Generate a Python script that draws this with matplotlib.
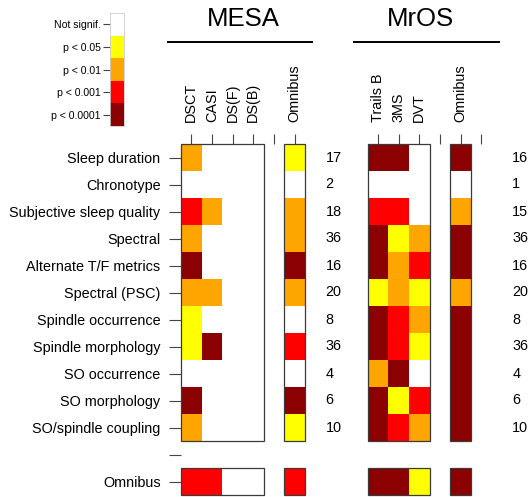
import numpy as np
import matplotlib.pyplot as plt
from matplotlib.colors import ListedColormap, BoundaryNorm
from matplotlib.patches import Rectangle

plt.rcParams['font.family'] = ['Liberation Sans', 'DejaVu Sans']

# significance levels: 0 = n.s., 1 = p<0.05, 2 = p<0.01, 3 = p<0.001, 4 = p<0.0001
level_names = ['Not signif.', 'p < 0.05', 'p < 0.01', 'p < 0.001', 'p < 0.0001']
level_colors = ['white', '#FFFF00', '#FFA500', '#FF0000', '#8B0000']

domains = ['Sleep duration', 'Chronotype', 'Subjective sleep quality', 'Spectral',
           'Alternate T/F metrics', 'Spectral (PSC)', 'Spindle occurrence',
           'Spindle morphology', 'SO occurrence', 'SO morphology', 'SO/spindle coupling']

mesa_tests = ['DSCT', 'CASI', 'DS(F)', 'DS(B)']
mesa_levels = [[2, 0, 0, 0], [0, 0, 0, 0], [3, 2, 0, 0], [2, 0, 0, 0],
               [4, 0, 0, 0], [2, 2, 0, 0], [1, 0, 0, 0], [1, 4, 0, 0],
               [0, 0, 0, 0], [4, 0, 0, 0], [2, 0, 0, 0]]
mesa_omnibus = [1, 0, 2, 2, 4, 2, 0, 3, 0, 4, 1]
mesa_overall = [3, 3, 0, 0]
mesa_overall_omnibus = 3
mesa_n = [17, 2, 18, 36, 16, 20, 8, 36, 4, 6, 10]

mros_tests = ['Trails B', '3MS', 'DVT']
mros_levels = [[4, 4, 0], [0, 0, 0], [3, 3, 0], [4, 1, 2],
               [4, 2, 3], [1, 2, 1], [4, 3, 2], [4, 3, 1],
               [2, 4, 0], [4, 1, 3], [4, 3, 2]]
mros_omnibus = [4, 0, 2, 4, 4, 2, 4, 4, 4, 4, 4]
mros_overall = [4, 4, 1]
mros_overall_omnibus = 4
mros_n = [16, 1, 15, 36, 16, 20, 8, 36, 4, 6, 10]

cmap = ListedColormap(level_colors)
norm = BoundaryNorm(np.arange(-0.5, 5.5, 1), cmap.N)

W, H = 529, 497
cw, ch = 20.65, 27.0   # cell size in pixels
top = 144
nrow = len(domains) + 2  # blank row + omnibus row
fs = 10.4

fig = plt.figure(figsize=(W / 100, H / 100), dpi=100)

edge = '#3a3a3a'


def box(ax, x0, y0, w, h):
    ax.add_patch(Rectangle((x0, y0), w, h, fill=False, ec=edge, lw=0.9,
                           clip_on=False, zorder=3))


def panel(left, title, tests, levels, omnibus, overall, overall_omni, counts,
          show_rows, extra_tick):
    ax = fig.add_axes([left / W, 1 - (top + nrow * ch) / H, 8 * cw / W, nrow * ch / H])
    nt = len(tests)
    nd = len(domains)
    ax.set_xlim(0, 8)
    ax.set_ylim(nrow, 0)
    for s in ax.spines.values():
        s.set_visible(False)

    lev = np.array(levels)
    ax.pcolormesh(np.arange(nt + 1), np.arange(nd + 1), lev, cmap=cmap, norm=norm)
    box(ax, 0, 0, nt, nd)
    oc = nt + 1
    ax.pcolormesh([oc, oc + 1], np.arange(nd + 1), np.array(omnibus)[:, None],
                  cmap=cmap, norm=norm)
    box(ax, oc, 0, 1, nd)

    ax.pcolormesh(np.arange(nt + 1), [nd + 1, nd + 2], np.array([overall]),
                  cmap=cmap, norm=norm)
    box(ax, 0, nd + 1, nt, 1)
    ax.pcolormesh([oc, oc + 1], [nd + 1, nd + 2], np.array([[overall_omni]]),
                  cmap=cmap, norm=norm)
    box(ax, oc, nd + 1, 1, 1)

    for i, n in enumerate(counts):
        ax.text(7.0, i + 0.5, str(n), ha='left', va='center', fontsize=fs,
                clip_on=False)

    xt = list(np.arange(nt + 2) + 0.5)
    xl = tests + ['', 'Omnibus']
    if extra_tick:
        xt.append(nt + 2.5)
        xl.append('')
    ax.set_xticks(xt, xl)
    ax.xaxis.tick_top()
    ax.tick_params(axis='x', rotation=90, pad=8.5, length=7.5, width=0.8,
                   color='#444444', labelsize=fs)

    if show_rows:
        ax.set_yticks(np.arange(nrow) + 0.5, domains + ['', 'Omnibus'])
        ax.tick_params(axis='y', pad=6.2, length=8.5, width=0.8,
                       color='#444444', labelsize=fs)
    else:
        ax.set_yticks([])

    # panel heading with rule underneath
    ax.text(3.0 if nt == 4 else 2.57, -4.37, title, ha='center', va='baseline',
            fontsize=18.5, clip_on=False)
    ax.plot([-0.69, 6.4], [-3.78, -3.78], color='black', lw=1.4, clip_on=False,
            solid_capstyle='butt')
    return ax


panel(181, 'MESA', mesa_tests, mesa_levels, mesa_omnibus, mesa_overall,
      mesa_overall_omnibus, mesa_n, True, False)
panel(367.7, 'MrOS', mros_tests, mros_levels, mros_omnibus, mros_overall,
      mros_overall_omnibus, mros_n, False, True)

# colour key
lg = fig.add_axes([110 / W, 1 - 126 / H, 14 / W, 113 / H])
lg.pcolormesh([0, 1], np.arange(len(level_names) + 1),
              np.arange(len(level_names))[:, None], cmap=cmap, norm=norm)
lg.set_xlim(0, 1)
lg.set_ylim(len(level_names), 0)
for s in lg.spines.values():
    s.set_color('#cccccc')
    s.set_linewidth(0.6)
lg.set_xticks([])
lg.set_yticks(np.arange(len(level_names)) + 0.5, level_names)
lg.tick_params(axis='y', length=5, width=0.8, color='#444444', pad=1.5,
               labelsize=7.6)

fig.savefig('out.png', dpi=100)
